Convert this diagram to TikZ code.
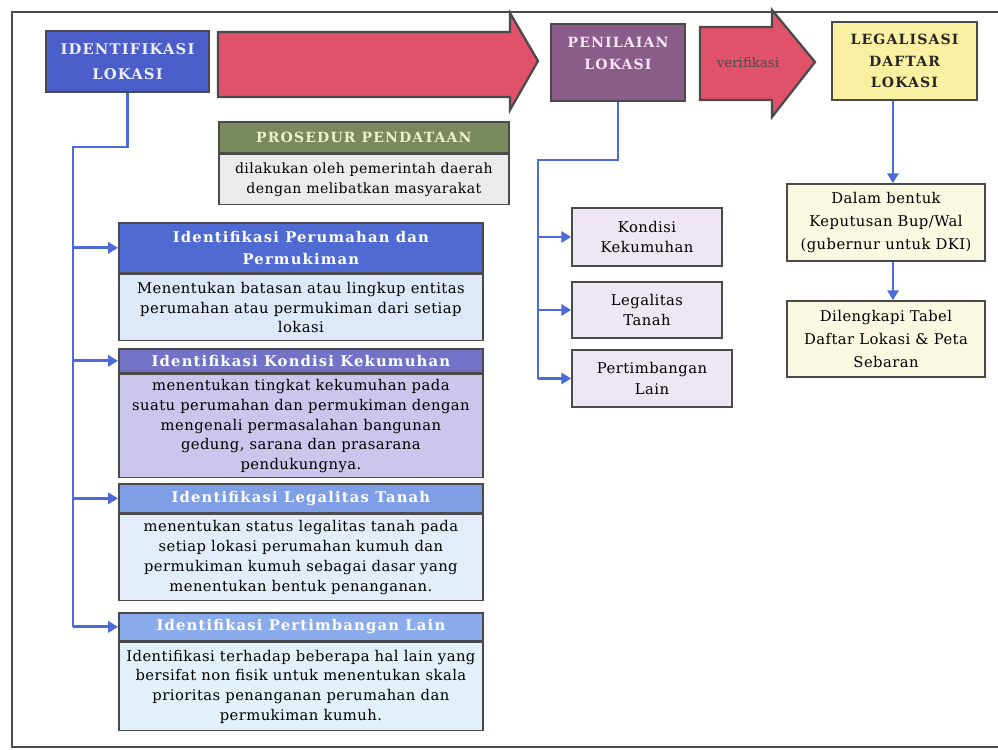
\documentclass[tikz,border=0pt]{standalone}
\usepackage{fontspec}
\setmainfont{DejaVu Serif}
\newfontfamily\capsfont[LetterSpace=8]{DejaVu Serif}
\newfontfamily\gapfont[LetterSpace=3]{DejaVu Serif}
\usetikzlibrary{positioning,arrows.meta}
\definecolor{frame}{HTML}{4A4A4A}
\definecolor{idblue}{HTML}{4B5DC9}
\definecolor{idtext}{HTML}{ECEEFF}
\definecolor{penpurple}{HTML}{8A5C8A}
\definecolor{pentext}{HTML}{F8E6F4}
\definecolor{legyellow}{HTML}{F9F0A2}
\definecolor{arrowred}{HTML}{E0526A}
\definecolor{cream}{HTML}{FBF8E2}
\definecolor{olive}{HTML}{7B8A5C}
\definecolor{olivetext}{HTML}{EEF0C8}
\definecolor{plaingray}{HTML}{EBEBEB}
\definecolor{linkblue}{HTML}{4C6BD8}
\definecolor{hdone}{HTML}{4F6AD2}
\definecolor{bdone}{HTML}{DDE8F8}
\definecolor{hdtwo}{HTML}{7272C6}
\definecolor{bdtwo}{HTML}{CBC6EC}
\definecolor{hdthree}{HTML}{7E9FE6}
\definecolor{bdthree}{HTML}{E3EDF9}
\definecolor{hdfour}{HTML}{8BACEC}
\definecolor{bdfour}{HTML}{E2F0FA}
\definecolor{lavender}{HTML}{EEE6F2}

\begin{document}
\begin{tikzpicture}[x=0.025cm,y=-0.025cm]
  \tikzstyle{stage}=[draw=frame,line width=1.4pt,align=center,inner sep=2pt]
  \tikzstyle{subhead}=[draw=frame,line width=1.2pt,minimum width=9.1cm,align=center,inner sep=1pt,text=white,font=\fontsize{10.5}{16}\capsfont\bfseries]
  \tikzstyle{subbody}=[draw=frame,line width=1.2pt,minimum width=9.1cm,align=center,inner sep=1pt,text=black,font=\fontsize{10.5}{14}\gapfont]
  \tikzstyle{aspect}=[draw=frame,line width=1.2pt,align=center,fill=lavender,minimum width=3.75cm,font=\fontsize{10.5}{14.5}\gapfont]
  \tikzstyle{result}=[draw=frame,line width=1.2pt,align=center,fill=cream,minimum width=4.95cm,font=\fontsize{10.5}{16.5}\gapfont]
  \tikzstyle{link}=[draw=linkblue,line width=2pt]
  \tikzstyle{into}=[-{Triangle[length=7pt,width=8pt]}]

  \useasboundingbox (0,0) rectangle (998,749);
  \draw[frame,line width=1.2pt] (998,12) -- (12,12) -- (12,747) -- (998,747);

  % stages along the top
  \node[stage,fill=idblue,text=idtext,minimum width=4.075cm,minimum height=1.525cm,
        font=\fontsize{10.5}{18}\capsfont\bfseries] (idlok) at (127.5,61.5) {IDENTIFIKASI\\LOKASI};
  \filldraw[fill=arrowred,draw=frame,line width=1.6pt]
    (218,32) -- (510,32) -- (510,13) -- (538,61) -- (510,110) -- (510,97) -- (218,97) -- cycle;
  \node[stage,fill=penpurple,text=pentext,minimum width=3.35cm,minimum height=1.925cm,
        font=\fontsize{10}{15}\capsfont\bfseries] (penlok) at (618,62.5) {PENILAIAN\\LOKASI\\[-2pt]};
  \filldraw[fill=arrowred,draw=frame,line width=1.6pt]
    (700,27) -- (772,27) -- (772,10) -- (815,62) -- (772,117) -- (772,100) -- (700,100) -- cycle;
  \node[text=frame,font=\fontsize{9.5}{11}\selectfont] (verif) at (748,63) {verifikasi};
  \node[stage,fill=legyellow,text=black!85,minimum width=3.625cm,minimum height=1.95cm,
        font=\fontsize{10}{15.5}\capsfont\bfseries] (legal) at (904.5,61) {LEGALISASI\\DAFTAR\\LOKASI};

  % prosedur
  \node[draw=frame,line width=1.2pt,fill=olive,text=olivetext,minimum width=7.25cm,minimum height=0.775cm,
        inner sep=1pt,font=\fontsize{10}{12}\capsfont\bfseries,anchor=north west] (prohead) at (218,121)
        {PROSEDUR PENDATAAN};
  \node[draw=frame,line width=1.2pt,fill=plaingray,minimum width=7.25cm,minimum height=1.25cm,align=center,
        inner sep=1pt,font=\fontsize{10}{14}\gapfont,below=0pt of prohead] (probody)
        {dilakukan oleh pemerintah daerah\\dengan melibatkan masyarakat};

  % identifikasi details
  \node[subhead,fill=hdone,minimum height=1.25cm,anchor=north west] (perhead) at (118,222)
        {Identifikasi Perumahan dan\\Permukiman};
  \node[subbody,fill=bdone,minimum height=1.65cm,below=0pt of perhead] (perbody)
        {Menentukan batasan atau lingkup entitas\\perumahan atau permukiman dari setiap\\lokasi};
  \node[subhead,fill=hdtwo,minimum height=0.6cm,anchor=north west] (kumhead) at (118,348)
        {Identifikasi Kondisi Kekumuhan};
  \node[subbody,fill=bdtwo,minimum height=2.575cm,below=0pt of kumhead] (kumbody)
        {menentukan tingkat kekumuhan pada\\suatu perumahan dan permukiman dengan\\mengenali permasalahan bangunan\\gedung, sarana dan prasarana\\pendukungnya.};
  \node[subhead,fill=hdthree,minimum height=0.725cm,anchor=north west] (leghead) at (118,483)
        {Identifikasi Legalitas Tanah};
  \node[subbody,fill=bdthree,minimum height=2.15cm,below=0pt of leghead] (legbody)
        {menentukan status legalitas tanah pada\\setiap lokasi perumahan kumuh dan\\permukiman kumuh sebagai dasar yang\\menentukan bentuk penanganan.};
  \node[subhead,fill=hdfour,minimum height=0.7cm,anchor=north west] (laihead) at (118,612)
        {Identifikasi Pertimbangan Lain};
  \node[subbody,fill=bdfour,minimum height=2.2cm,below=0pt of laihead] (laibody)
        {Identifikasi terhadap beberapa hal lain yang\\bersifat non fisik untuk menentukan skala\\prioritas penanganan perumahan dan\\permukiman kumuh.};

  % penilaian aspects
  \node[aspect,minimum height=1.45cm] (kond) at (647,237) {Kondisi\\Kekumuhan};
  \node[aspect,minimum height=1.4cm] (lega) at (647,310) {Legalitas\\Tanah};
  \node[aspect,minimum width=4cm,minimum height=1.425cm] (pert) at (652,378.5) {Pertimbangan\\Lain};

  % legalisasi results
  \node[result,minimum height=1.925cm] (dalam) at (886,222.5) {Dalam bentuk\\Keputusan Bup/Wal\\(gubernur untuk DKI)};
  \node[result,minimum height=1.9cm] (lengkap) at (886,339) {Dilengkapi Tabel\\Daftar Lokasi \& Peta\\Sebaran};

  % connectors
  \coordinate (idtrunk) at (73,147);
  \draw[link] (idlok.south) |- (idtrunk) -- (idtrunk |- laihead.west);
  \foreach \h in {perhead,kumhead,leghead,laihead}
    \draw[link,into] (idtrunk |- \h.west) -- (\h.west);
  \coordinate (pentrunk) at (538,160);
  \draw[link] (penlok.south) |- (pentrunk) -- (pentrunk |- pert.west);
  \foreach \a in {kond,lega,pert}
    \draw[link,into] (pentrunk |- \a.west) -- (\a.west);
  \draw[link,into] ([xshift=-0.29cm]legal.south) -- ([xshift=-0.29cm]legal.south |- dalam.north);
  \draw[link,into] ([xshift=0.175cm]dalam.south) -- ([xshift=0.175cm]dalam.south |- lengkap.north);
\end{tikzpicture}
\end{document}
